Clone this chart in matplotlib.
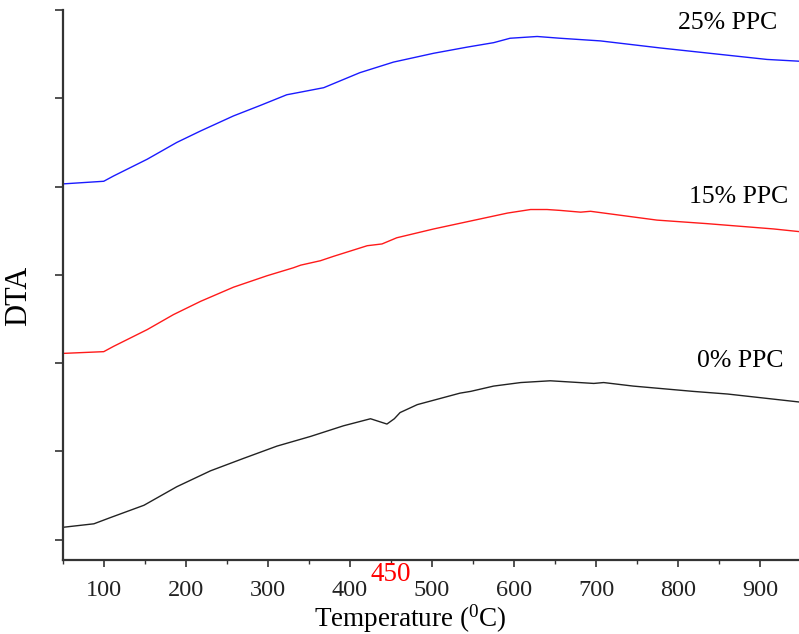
import matplotlib.pyplot as plt
from matplotlib.ticker import MultipleLocator

plt.rcParams['font.family'] = ['Liberation Serif', 'DejaVu Serif']
plt.rcParams['mathtext.fontset'] = 'custom'
plt.rcParams['mathtext.rm'] = 'Liberation Serif'

# DTA traces (temperature in deg C, signal in arbitrary stacked units)
temp_25 = [50, 100, 112, 153, 189, 218, 258, 291, 323, 340, 368, 412, 453, 502,
           543, 575, 595, 628, 656, 705, 778, 908, 947]
dta_25 = [4.03, 4.06, 4.12, 4.31, 4.50, 4.63, 4.80, 4.92, 5.04, 5.07, 5.12, 5.29,
          5.41, 5.51, 5.58, 5.63, 5.68, 5.70, 5.68, 5.65, 5.57, 5.44, 5.42]

temp_15 = [50, 100, 112, 153, 185, 218, 258, 299, 331, 340, 364, 380, 421, 439,
           457, 502, 562, 592, 620, 640, 656, 681, 693, 774, 835, 916, 947]
dta_15 = [2.11, 2.13, 2.19, 2.38, 2.55, 2.70, 2.86, 2.99, 3.08, 3.11, 3.16, 3.21,
          3.33, 3.35, 3.42, 3.52, 3.64, 3.70, 3.74, 3.74, 3.73, 3.71, 3.72, 3.62,
          3.58, 3.52, 3.49]

temp_0 = [50, 88, 108, 149, 189, 230, 270, 311, 352, 392, 425, 435, 445, 454,
          461, 482, 534, 547, 575, 608, 644, 697, 709, 745, 818, 860, 947]
dta_0 = [0.14, 0.18, 0.25, 0.39, 0.60, 0.78, 0.92, 1.06, 1.17, 1.29, 1.37, 1.34,
         1.31, 1.37, 1.44, 1.53, 1.66, 1.68, 1.74, 1.78, 1.80, 1.77, 1.78, 1.74,
         1.68, 1.65, 1.56]

series_labels = ['25% PPC', '15% PPC', '0% PPC']
label_pos = [(860, 5.85), (874, 3.88), (875, 2.02)]
peak_temp = 450

fig = plt.figure(figsize=(7.99, 6.34), dpi=100)
ax = fig.add_axes([62.7 / 799, 1 - 560 / 634, 1 - 62.7 / 799, 550 / 634])

ax.plot(temp_25, dta_25, color='#1a1aff', lw=1.0)
ax.plot(temp_15, dta_15, color='#ff1a1a', lw=1.0)
ax.plot(temp_0, dta_0, color='#222222', lw=1.0)

for text, (x, y) in zip(series_labels, label_pos):
    ax.text(x, y, text, ha='center', va='center', fontsize=18.5)

ax.set_xlim(50, 947)
ax.set_ylim(-0.23, 6.0)
ax.xaxis.set_major_locator(MultipleLocator(100))
ax.xaxis.set_minor_locator(MultipleLocator(50))
ax.yaxis.set_major_locator(MultipleLocator(1))
ax.set_yticklabels([])

for side in ('top', 'right'):
    ax.spines[side].set_visible(False)
for side in ('left', 'bottom'):
    ax.spines[side].set_linewidth(1.6)
    ax.spines[side].set_color('#333333')

ax.tick_params(axis='x', which='major', direction='out', length=5, width=1.2,
               labelsize=17.5, pad=9.5, colors='#333333', labelcolor='#222222')
ax.tick_params(axis='x', which='minor', direction='out', length=3, width=1.0,
               colors='#333333')
ax.tick_params(axis='y', which='major', direction='out', length=6, width=1.2,
               colors='#333333')

ax.set_xlabel(r'Temperature ($\mathregular{^0}$C)', fontsize=19.5)
ax.xaxis.set_label_coords(0.472, -0.078)
ax.set_ylabel('DTA', fontsize=22)
ax.yaxis.set_label_coords(-0.040, 0.48)

ax.text(peak_temp, -0.027, str(peak_temp), color='red', fontsize=19.5,
        ha='center', va='center', transform=ax.get_xaxis_transform(),
        clip_on=False)

fig.savefig('out.png', dpi=100)
